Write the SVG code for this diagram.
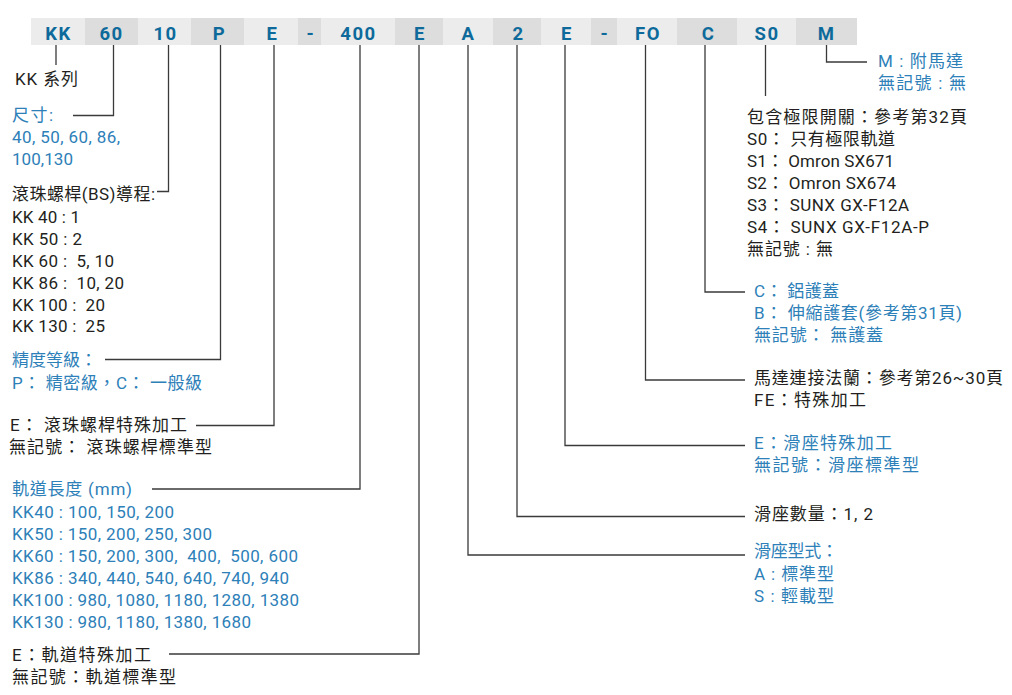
<svg xmlns="http://www.w3.org/2000/svg" width="1012" height="695" viewBox="0 0 1012 695" xml:space="preserve">
<style>
.bg{fill:#ffffff}
.lt{fill:#ececec}
.dk{fill:#dcdddc}
.hd{font-family:Roboto,"Noto Sans CJK TC",sans-serif;font-weight:bold;font-size:18.5px;fill:#0d6a9b;text-anchor:middle;letter-spacing:1.5px}
.t{font-family:Roboto,"Noto Sans CJK TC",sans-serif;font-size:17px;white-space:pre}
.k{fill:#231f20}
.b{fill:#2d80b8}
.ln{fill:none;stroke:#3a3a3a;stroke-width:1.3}
</style>
<rect class="bg" width="1012" height="695"/>
<g id="header">
<rect class="lt" x="31" y="18" width="54" height="27"/>
<rect class="dk" x="85" y="18" width="53" height="27"/>
<rect class="lt" x="138" y="18" width="53" height="27"/>
<rect class="dk" x="191" y="18" width="53" height="27"/>
<rect class="lt" x="244" y="18" width="54" height="27"/>
<rect class="dk" x="298" y="18" width="23" height="27"/>
<rect class="lt" x="321" y="18" width="74" height="27"/>
<rect class="dk" x="395" y="18" width="48" height="27"/>
<rect class="lt" x="443" y="18" width="50" height="27"/>
<rect class="dk" x="493" y="18" width="48" height="27"/>
<rect class="lt" x="541" y="18" width="50" height="27"/>
<rect class="dk" x="591" y="18" width="26" height="27"/>
<rect class="lt" x="617" y="18" width="60" height="27"/>
<rect class="dk" x="677" y="18" width="60" height="27"/>
<rect class="lt" x="737" y="18" width="59" height="27"/>
<rect class="dk" x="796" y="18" width="61" height="27"/>
<text class="hd" x="58.5" y="39.5">KK</text>
<text class="hd" x="111.5" y="39.5">60</text>
<text class="hd" x="165.5" y="39.5">10</text>
<text class="hd" x="219.5" y="39.5">P</text>
<text class="hd" x="272.5" y="39.5">E</text>
<text class="hd" x="311" y="39.5">-</text>
<text class="hd" x="358.5" y="39.5">400</text>
<text class="hd" x="420" y="39.5">E</text>
<text class="hd" x="468.5" y="39.5">A</text>
<text class="hd" x="518.5" y="39.5">2</text>
<text class="hd" x="567" y="39.5">E</text>
<text class="hd" x="605" y="39.5">-</text>
<text class="hd" x="648" y="39.5">FO</text>
<text class="hd" x="708.5" y="39.5">C</text>
<text class="hd" x="767" y="39.5">S0</text>
<text class="hd" x="826.5" y="39.5">M</text>
</g>
<g id="connectors">
<path class="ln" d="M56 45V65"/>
<path class="ln" d="M113.5 45V115.5H73"/>
<path class="ln" d="M168.5 45V191.5H157"/>
<path class="ln" d="M220.5 45V359.5H105"/>
<path class="ln" d="M274 45V425.5H196"/>
<path class="ln" d="M360 45V489H152"/>
<path class="ln" d="M419 45V654H169"/>
<path class="ln" d="M468 45V555H745"/>
<path class="ln" d="M517 45V516.5H745"/>
<path class="ln" d="M565 45V445.5H745"/>
<path class="ln" d="M645.5 45V380H745"/>
<path class="ln" d="M705 45V292H745"/>
<path class="ln" d="M765.5 45V96"/>
<path class="ln" d="M826.5 45V62H867"/>
</g>
<g id="series">
<text class="t k" x="15" y="85" textLength="63">KK 系列</text>
</g>
<g id="size">
<text class="t b" x="12" y="121" textLength="41">尺寸:</text>
<text class="t b" x="12" y="143" textLength="108">40, 50, 60, 86,</text>
<text class="t b" x="12" y="165" textLength="61">100,130</text>
</g>
<g id="lead">
<text class="t k" x="12" y="200" textLength="143">滾珠螺桿(BS)導程:</text>
<text class="t k" x="12" y="222.5" textLength="68">KK 40 : 1</text>
<text class="t k" x="12" y="244.5" textLength="70">KK 50 : 2</text>
<text class="t k" x="12" y="266.5" textLength="102">KK 60 :  5, 10</text>
<text class="t k" x="12" y="288.5" textLength="112">KK 86 :  10, 20</text>
<text class="t k" x="12" y="310.5" textLength="93">KK 100 :  20</text>
<text class="t k" x="12" y="332" textLength="93">KK 130 :  25</text>
</g>
<g id="accuracy">
<text class="t b" x="12" y="366" textLength="85">精度等級：</text>
<text class="t b" x="12" y="388.5" textLength="190">P： 精密級，C： 一般級</text>
</g>
<g id="screw">
<text class="t k" x="10" y="431" textLength="177">E： 滾珠螺桿特殊加工</text>
<text class="t k" x="9" y="453" textLength="203">無記號： 滾珠螺桿標準型</text>
</g>
<g id="rail-length">
<text class="t b" x="12" y="495" textLength="120">軌道長度 (mm)</text>
<text class="t b" x="12" y="518" textLength="162">KK40 : 100, 150, 200</text>
<text class="t b" x="12" y="540" textLength="200">KK50 : 150, 200, 250, 300</text>
<text class="t b" x="12" y="562" textLength="286">KK60 : 150, 200, 300,  400,  500, 600</text>
<text class="t b" x="12" y="584" textLength="277">KK86 : 340, 440, 540, 640, 740, 940</text>
<text class="t b" x="12" y="606" textLength="287">KK100 : 980, 1080, 1180, 1280, 1380</text>
<text class="t b" x="12" y="628" textLength="239">KK130 : 980, 1180, 1380, 1680</text>
</g>
<g id="rail">
<text class="t k" x="12" y="661" textLength="139">E：軌道特殊加工</text>
<text class="t k" x="12" y="683" textLength="164">無記號：軌道標準型</text>
</g>
<g id="motor">
<text class="t b" x="878" y="67" textLength="85">M : 附馬達</text>
<text class="t b" x="878" y="88.5" textLength="88">無記號 : 無</text>
</g>
<g id="limit">
<text class="t k" x="747" y="122.5" textLength="220">包含極限開關：參考第32頁</text>
<text class="t k" x="747" y="144.5" textLength="148">S0： 只有極限軌道</text>
<text class="t k" x="747" y="166.5" textLength="147">S1： Omron SX671</text>
<text class="t k" x="747" y="188.5" textLength="149">S2： Omron SX674</text>
<text class="t k" x="747" y="210.5" textLength="162">S3： SUNX GX-F12A</text>
<text class="t k" x="747" y="232.5" textLength="182">S4： SUNX GX-F12A-P</text>
<text class="t k" x="747" y="254.5" textLength="86">無記號 : 無</text>
</g>
<g id="cover">
<text class="t b" x="754" y="297" textLength="85">C： 鋁護蓋</text>
<text class="t b" x="754" y="319" textLength="208">B： 伸縮護套(參考第31頁)</text>
<text class="t b" x="754" y="341" textLength="129">無記號： 無護蓋</text>
</g>
<g id="flange">
<text class="t k" x="754" y="384" textLength="249">馬達連接法蘭：參考第26~30頁</text>
<text class="t k" x="754" y="406" textLength="112">FE：特殊加工</text>
</g>
<g id="block-special">
<text class="t b" x="754" y="449" textLength="138">E：滑座特殊加工</text>
<text class="t b" x="754" y="471" textLength="165">無記號：滑座標準型</text>
</g>
<g id="block-count">
<text class="t k" x="754" y="519.5" textLength="119">滑座數量：1, 2</text>
</g>
<g id="block-type">
<text class="t b" x="754" y="557" textLength="84">滑座型式：</text>
<text class="t b" x="754" y="580" textLength="80">A : 標準型</text>
<text class="t b" x="754" y="602" textLength="80">S : 輕載型</text>
</g>
</svg>
